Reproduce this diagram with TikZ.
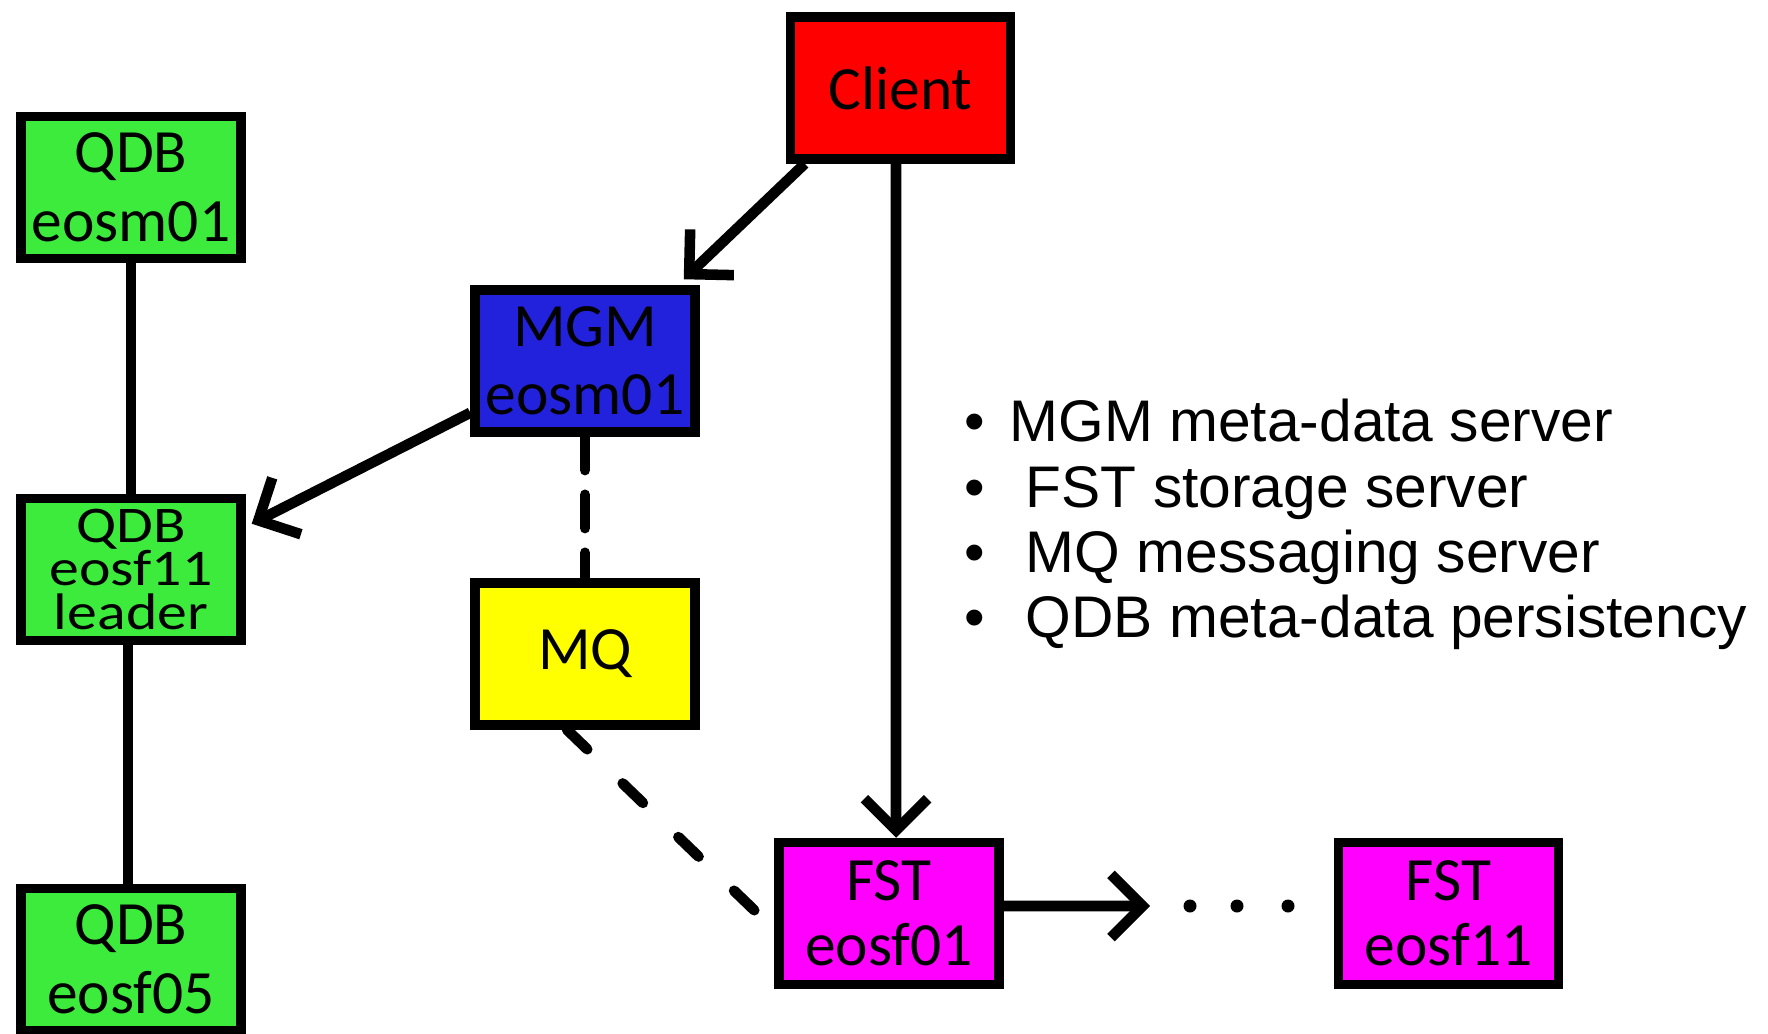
\documentclass[tikz,border=0pt]{standalone}
\usepackage{xcolor}
\usepackage{graphicx}
\usepackage{fontspec}
\setmainfont{Carlito}
\newfontfamily\listfont{Liberation Sans}
\usepackage{tikz}
\usetikzlibrary{arrows.meta}

\definecolor{qdbgreen}{RGB}{61,235,61}
\definecolor{mgmblue}{RGB}{34,34,221}
\definecolor{fstpink}{RGB}{255,0,255}
\definecolor{mqyellow}{RGB}{255,255,0}
\newcommand\squeezed[1]{\scalebox{1}[0.86]{\parbox{2cm}{\centering
	\fontsize{17}{14.4}\selectfont\lineskiplimit-20pt\lineskip0pt #1}}}

\begin{document}
\begin{tikzpicture}[
	box/.style={draw,line width=2.7pt,minimum width=2.2cm,minimum height=1.42cm,
		align=center,inner sep=0pt,font=\fontsize{17.5}{19.5}\selectfont},
	link/.style={line width=3pt},
	arr/.style={link,-{Straight Barb[length=9pt,width=18pt]}},
	dashlink/.style={link,line cap=round,dash pattern=on 8pt off 14pt},
	shortgap/.style={link,line cap=round,dash pattern=on 9.5pt off 7pt},
	legend/.style={inner sep=0pt,anchor=base west,font=\listfont\fontsize{16.7}{18.6}\selectfont}
	]
		\useasboundingbox (0,0) rectangle (17.68,10.33);
		
		\node[box,fill=red] (client) at (9.005,9.45) {Client};
		\node[box,fill=mgmblue] (mgm) at (5.85,6.72) {MGM\\eosm01};
		\node[box,fill=mqyellow] (mq) at (5.85,3.79) {MQ};
		\node[box,fill=fstpink,font=\fontsize{17.5}{18.5}\selectfont] (fst1) at (8.89,1.195) {FST\\eosf01};
		\node[box,fill=fstpink,font=\fontsize{17.5}{18.5}\selectfont] (fst11) at (14.485,1.195) {FST\\eosf11};
		
		\node[box,fill=qdbgreen] (qdbm) at (1.31,8.455) {QDB\\eosm01};
		\node[box,fill=qdbgreen] (qdbl) at (1.31,4.635) {\squeezed{QDB\\eosf11\\leader}};
		\node[box,fill=qdbgreen] (qdbf) at (1.31,0.735) {QDB\\eosf05};
		
		\draw[link] (qdbm.south) -- (qdbl.north);
		\draw[link] ([xshift=-0.3mm]qdbl.south) -- ([xshift=-0.3mm]qdbf.north);
		
		\draw[arr] ([xshift=1.9mm]client.south west) -- ([xshift=-1.6mm,yshift=0.6mm]mgm.north east);
		\draw[arr] ([xshift=-0.45mm]client.south) -- ([xshift=0.7mm]fst1.north);
		\draw[arr] ([yshift=2.4mm]mgm.south west) -- ([xshift=0.6mm,yshift=-3mm]qdbl.north east);
		
		\draw[shortgap] (mgm.south) -- (mq.north);
		\draw[dashlink] ([xshift=-1.8mm]mq.south) -- ([yshift=-1.6mm]fst1.west);
		
		\coordinate (more) at (11.50,1.27);
		\draw[arr] ([yshift=0.75mm]fst1.east) -- (more);
		\foreach \x in {11.90,12.37,12.88}
		\fill (\x,1.27) circle (0.065);
		
		\foreach \txt [count=\i] in {{\textbullet\ \kern2.3pt MGM meta-data server},
			{\textbullet\ \ \kern2.3pt FST storage server},
			{\textbullet\ \ \kern2.3pt MQ messaging server},
			{\textbullet\ \ \kern2.3pt QDB meta-data persistency}}
		\node[legend] (item\i) at (9.64,{5.91-0.653*(\i-1)}) {\txt};
	\end{tikzpicture}
\end{document}
